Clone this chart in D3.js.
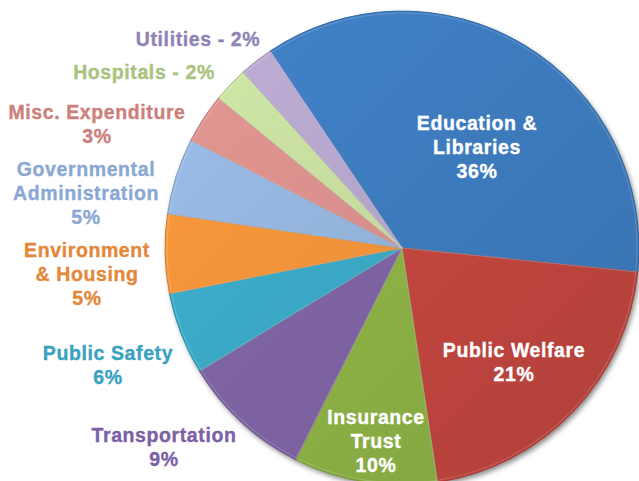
<!DOCTYPE html>
<html>
<head>
<meta charset="utf-8">
<script src="https://cdn.jsdelivr.net/npm/d3@7"></script>
<style>
  html, body { margin: 0; padding: 0; background: #fff; }
  svg { display: block; }
  text { font-family: "Liberation Sans", Arial, Helvetica, sans-serif; font-weight: bold; }
</style>
</head>
<body>
<svg id="chart" width="639" height="481"></svg>
<script>
// Spending categories, clockwise from the upper left
const categories = [
  "Education & Libraries", "Public Welfare", "Insurance Trust", "Transportation",
  "Public Safety", "Environment & Housing", "Governmental Administration",
  "Misc. Expenditure", "Hospitals", "Utilities"
];
// Share of total spending, percent
const values = [36.0, 21.0, 9.8, 8.9, 5.6, 5.4, 5.2, 3.4, 2.4, 2.3];
// Label text lines (percentage is appended from the value)
const labelLines = [
  ["Education &", "Libraries"],
  ["Public Welfare"],
  ["Insurance", "Trust"],
  ["Transportation"],
  ["Public Safety"],
  ["Environment", "& Housing"],
  ["Governmental", "Administration"],
  ["Misc. Expenditure"],
  ["Hospitals"],
  ["Utilities"]
];
// Labels that put the percent on the same line
const inlinePercent = [false, false, false, false, false, false, false, false, true, true];
const sliceColors = [
  "#3d7bbd", "#c2463f", "#8db245", "#7f63a3", "#3aa8c5",
  "#f2923a", "#93b3db", "#d88f8b", "#c6db9e", "#b4a5cb"
];
const labelColors = [
  "#ffffff", "#ffffff", "#ffffff", "#7c60a6", "#38a2bf",
  "#e3883a", "#8aa8d3", "#cd7f7c", "#a8c47f", "#8f83b3"
];

// Layout
const width = 639, height = 481;
const cx = 402, cy = 248, radius = 237;
const startDeg = -33.8;
// Text anchor points (centre of first line baseline) for each label
const labelAnchor = [
  [477, 130], [514, 357], [376, 424], [164, 442], [108, 360],
  [87, 257], [86, 176], [97, 119], [144, 79], [198, 46]
];
const lineHeight = 24;

const svg = d3.select("#chart");
const defs = svg.append("defs");

const shadow = defs.append("filter").attr("id", "shadow")
  .attr("x", "-20%").attr("y", "-20%").attr("width", "140%").attr("height", "140%");
shadow.append("feDropShadow")
  .attr("dx", 2).attr("dy", 3).attr("stdDeviation", 2.5)
  .attr("flood-color", "#000").attr("flood-opacity", 0.45);

sliceColors.forEach((c, i) => {
  const g = defs.append("linearGradient").attr("id", "grad" + i)
    .attr("gradientUnits", "userSpaceOnUse")
    .attr("x1", -radius).attr("y1", -radius).attr("x2", radius).attr("y2", radius);
  g.append("stop").attr("offset", "0%").attr("stop-color", d3.color(c).brighter(0.18));
  g.append("stop").attr("offset", "100%").attr("stop-color", d3.color(c).darker(0.25));
});

const pie = d3.pie()
  .sort(null)
  .value(d => d)
  .startAngle(startDeg * Math.PI / 180)
  .endAngle(startDeg * Math.PI / 180 + 2 * Math.PI);

const arcs = pie(values);
const arc = d3.arc().innerRadius(0).outerRadius(radius);

const g = svg.append("g").attr("transform", `translate(${cx},${cy})`);

// Soft shadow under the whole pie
g.append("g").attr("filter", "url(#shadow)")
  .selectAll("path").data(arcs).join("path")
  .attr("d", arc)
  .attr("fill", (d, i) => sliceColors[i]);

g.selectAll("path.slice").data(arcs).join("path")
  .attr("class", "slice")
  .attr("d", arc)
  .attr("fill", (d, i) => `url(#grad${i})`)
  .attr("stroke", (d, i) => d3.color(sliceColors[i]).darker(0.6))
  .attr("stroke-width", 0.8)
  .attr("stroke-linejoin", "round");

// Subtle highlight just inside each slice edge
const innerArc = d3.arc().innerRadius(0).outerRadius(radius - 2);
g.selectAll("path.hl").data(arcs).join("path")
  .attr("class", "hl")
  .attr("d", innerArc)
  .attr("fill", "none")
  .attr("stroke", "rgba(255,255,255,0.15)")
  .attr("stroke-width", 1.2);

const fmt = d3.format(".0f");
const labels = svg.append("g");
arcs.forEach((d, i) => {
  const pct = fmt(d.data) + "%";
  const lines = inlinePercent[i]
    ? [labelLines[i][0] + " - " + pct]
    : labelLines[i].concat([pct]);
  const t = labels.append("text")
    .attr("x", labelAnchor[i][0])
    .attr("y", labelAnchor[i][1])
    .attr("text-anchor", "middle")
    .attr("font-size", 19.5)
    .attr("letter-spacing", 0.6)
    .attr("fill", labelColors[i])
    .attr("stroke", labelColors[i])
    .attr("stroke-width", 0.35);
  lines.forEach((s, k) => {
    t.append("tspan")
      .attr("x", labelAnchor[i][0])
      .attr("dy", k === 0 ? 0 : lineHeight)
      .text(s);
  });
});
</script>
</body>
</html>
